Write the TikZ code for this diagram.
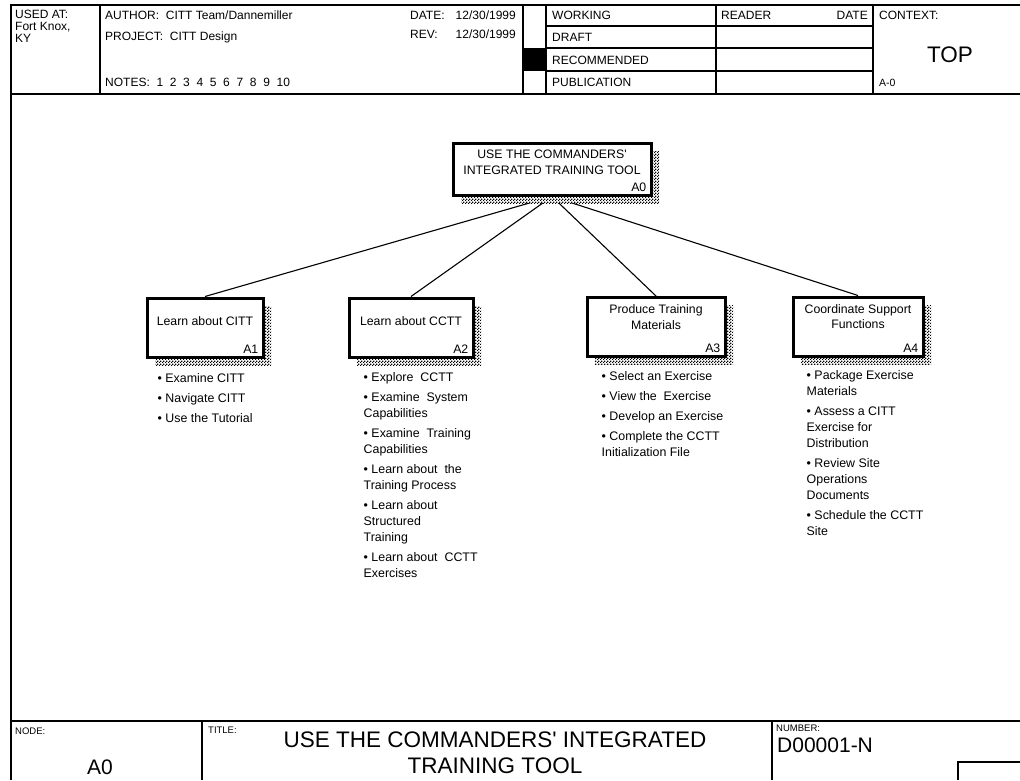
\documentclass[tikz,border=0pt]{standalone}
\usepackage{fontspec}
\setmainfont{Liberation Sans}[Ligatures=TeXOff]
\usetikzlibrary{positioning, shadows, patterns, backgrounds}
% checkered dither used for the box shadows
\pgfdeclarepatternformonly{dither}{\pgfpointorigin}{\pgfqpoint{3pt}{3pt}}{\pgfqpoint{3pt}{3pt}}{%
  \pgfpathrectangle{\pgfpointorigin}{\pgfqpoint{1.5pt}{1.5pt}}%
  \pgfpathrectangle{\pgfqpoint{1.5pt}{1.5pt}}{\pgfqpoint{1.5pt}{1.5pt}}%
  \pgfusepath{fill}}

\begin{document}
\begin{tikzpicture}[x=1pt, y=-1pt,
  formline/.style={line width=1.5pt},
  hdrtext/.style={anchor=west, inner sep=0pt, font=\fontsize{12}{12.2}\selectfont},
  smalltext/.style={anchor=west, inner sep=0pt, font=\fontsize{9.5}{10}\selectfont},
  actbox/.style={draw, line width=3pt, fill=white, minimum height=59pt, inner sep=0pt,
    general shadow={shadow xshift=8pt, shadow yshift=-8pt, fill=white, draw=none,
      postaction={pattern=dither}}},
  actcap/.style={align=center, inner sep=0pt, font=\fontsize{12.3}{15.5}\selectfont},
  actnum/.style={anchor=south east, inner xsep=6pt, inner ysep=5pt, font=\fontsize{12.3}{14}\selectfont},
  tasklist/.style={align=left, inner sep=0pt, font=\fontsize{12.4}{16}\selectfont},
  treelink/.style={line width=1.1pt}
]
  \useasboundingbox (0,0) rectangle (1020,780);

  % form frame
  \draw[formline] (11,780) -- (11,5) -- (1020,5);
  \draw[formline] (11,94) -- (1020,94);
  \foreach \x in {100,523,546,716,873}
    \draw[formline] (\x,5) -- (\x,94);
  \foreach \y in {26,48,71}
    \draw[formline] (546,\y) -- (873,\y);
  \fill (523,48) rectangle (546,71);
  \draw[formline] (11,721) -- (1020,721);
  \draw[formline] (202,721) -- (202,780);
  \draw[formline] (772,721) -- (772,780);
  \draw[formline] (958,780) -- (958,762) -- (1020,762);

  % header texts
  \node[hdrtext, anchor=north west, align=left] (usedat) at (15,10) {USED AT:\\Fort Knox,\\KY};
  \node[hdrtext] (author) at (105,15) {AUTHOR:\ \ CITT Team/Dannemiller};
  \node[hdrtext] (project) at (105,37) {PROJECT:\ \ CITT Design};
  \node[hdrtext] (notes) at (105,82.5) {NOTES:\ \ 1\ \ 2\ \ 3\ \ 4\ \ 5\ \ 6\ \ 7\ \ 8\ \ 9\ \ 10};
  \node[hdrtext] (date) at (410,15) {DATE:};
  \node[hdrtext, anchor=east] (dateval) at (516,15) {12/30/1999};
  \node[hdrtext] (rev) at (410,34) {REV:};
  \node[hdrtext, anchor=east] (revval) at (516,34) {12/30/1999};
  \node[hdrtext] (working) at (552,15.5) {WORKING};
  \node[hdrtext] (draft) at (552,37.5) {DRAFT};
  \node[hdrtext] (recommended) at (552,60) {RECOMMENDED};
  \node[hdrtext] (publication) at (552,82.5) {PUBLICATION};
  \node[hdrtext] (reader) at (721,15.5) {READER};
  \node[hdrtext, anchor=east] (readerdate) at (868,15.5) {DATE};
  \node[hdrtext] (context) at (879,15.5) {CONTEXT:};
  \node[inner sep=0pt, font=\fontsize{22.5}{24}\selectfont] (top) at (950,55) {TOP};
  \node[smalltext, font=\fontsize{10.5}{11}\selectfont] (ctxnum) at (879,83) {A-0};

  % activity boxes
  \node[actbox, minimum width=198pt, minimum height=52pt, label={[actnum]south east:A0}] (a0) at (552,169) {};
  \node[actcap] (a0t) at ([yshift=6.5pt]a0.center) {USE THE COMMANDERS'\\INTEGRATED TRAINING TOOL};
  \node[actbox, minimum width=116pt, label={[actnum]south east:A1}] (a1) at (205,327.5) {};
  \node[actcap] (a1t) at ([yshift=6.5pt]a1.center) {Learn about CITT};
  \node[actbox, minimum width=124pt, label={[actnum]south east:A2}] (a2) at (411,327.5) {};
  \node[actcap] (a2t) at ([yshift=6.5pt]a2.center) {Learn about CCTT};
  \node[actbox, minimum width=138pt, label={[actnum]south east:A3}] (a3) at (656,327) {};
  \node[actcap] (a3t) at ([yshift=10pt]a3.center) {Produce Training\\Materials};
  \node[actbox, minimum width=130pt, label={[actnum]south east:A4}] (a4) at (858,326.5) {};
  \node[actcap] (a4t) at ([yshift=10pt]a4.center) {Coordinate Support\\Functions};

  \begin{scope}[on background layer]
    \foreach \k in {a1,a2,a3,a4}
      \draw[treelink] (a0.south) -- (\k.north);
  \end{scope}

  % task lists
  \node[tasklist, below right=15pt and 12pt of a1.south west] (a1list)
    {• Examine CITT\\[4pt]• Navigate CITT\\[4pt]• Use the Tutorial};
  \node[tasklist, below right=14pt and 16pt of a2.south west] (a2list)
    {• Explore\ \ CCTT\\[4pt]• Examine\ \ System\\Capabilities\\[4pt]• Examine\ \ Training\\Capabilities\\[4pt]%
     • Learn about\ \ the\\Training Process\\[4pt]• Learn about\\Structured\\Training\\[4pt]• Learn about\ \ CCTT\\Exercises};
  \node[tasklist, below right=13pt and 16pt of a3.south west] (a3list)
    {• Select an Exercise\\[4pt]• View the\ \ Exercise\\[4pt]• Develop an Exercise\\[4pt]• Complete the CCTT\\Initialization File};
  \node[tasklist, below right=13pt and 15pt of a4.south west] (a4list)
    {• Package Exercise\\Materials\\[4pt]• Assess a CITT\\Exercise for\\Distribution\\[4pt]• Review Site\\Operations\\Documents\\[4pt]%
     • Schedule the CCTT\\Site};

  % footer texts
  \node[smalltext] (nodelbl) at (15,731) {NODE:};
  \node[inner sep=0pt, font=\fontsize{21}{23}\selectfont] (nodeval) at (100,767) {A0};
  \node[smalltext] (titlelbl) at (208,730) {TITLE:};
  \node[align=center, inner sep=0pt, font=\fontsize{22.5}{26}\selectfont] (title) at (495,753)
    {USE THE COMMANDERS' INTEGRATED\\TRAINING TOOL};
  \node[smalltext] (numberlbl) at (776,728) {NUMBER:};
  \node[inner sep=0pt, anchor=west, font=\fontsize{21}{23}\selectfont] (number) at (777,745) {D00001-N};
\end{tikzpicture}
\end{document}
